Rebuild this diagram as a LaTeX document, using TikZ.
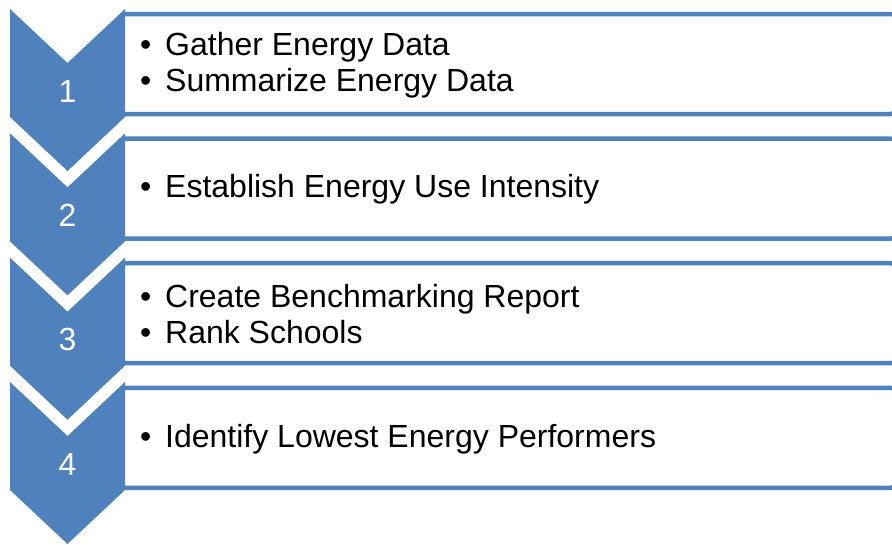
\documentclass[tikz,border=0pt]{standalone}
\usepackage{fontspec}
\setmainfont{Liberation Sans}
\definecolor{accent}{HTML}{4F81BD}
\tikzset{
  boxline/.style={draw=accent,line width=4.5pt,rounded corners=12pt},
  chev/.style={fill=accent},
  num/.style={text=white,font=\fontsize{32}{36}\selectfont,inner sep=0pt},
  items/.style={anchor=west,align=left,inner sep=0pt,font=\fontsize{32}{36}\selectfont}
}
\newcommand{\itm}[1]{\hbox to 25pt{\textbullet\hfil}#1}
\begin{document}
\begin{tikzpicture}[x=1pt,y=-1pt]
\useasboundingbox (0,0) rectangle (892,544);
% boxes
\foreach \t in {14,138.6,263.2,387.8}{
  \draw[boxline] (124,\t) -- (902,\t) -- (902,\t+100) -- (124,\t+100);
}
% chevrons
\foreach \t/\n in {9/1,133.3/2,257.7/3,382/4}{
  \fill[chev] (10,\t) -- (67.5,\t+54) -- (125,\t) -- (125,\t+108) -- (67.5,\t+162) -- (10,\t+108) -- cycle;
  \node[num] (n\n) at (67.5,\t+82) {\n};
}
\node[items] (t1) at (140,65.5) {\itm{Gather Energy Data}\\\itm{Summarize Energy Data}};
\node[items] (t2) at (140,189) {\itm{Establish Energy Use Intensity}};
\node[items] (t3) at (140,314) {\itm{Create Benchmarking Report}\\\itm{Rank Schools}};
\node[items] (t4) at (140,439) {\itm{Identify Lowest Energy Performers}};
\end{tikzpicture}
\end{document}
